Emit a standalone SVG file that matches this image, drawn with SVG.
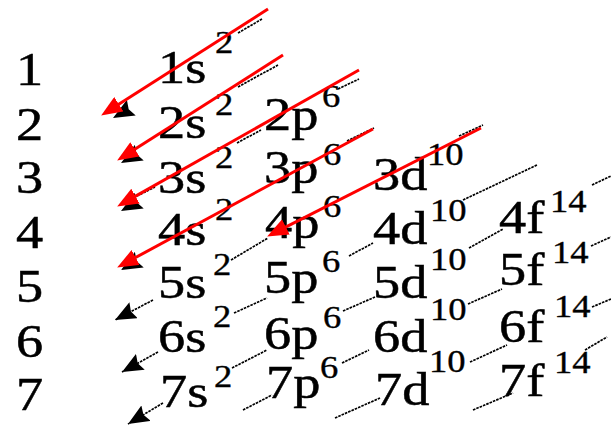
<svg xmlns="http://www.w3.org/2000/svg" width="611" height="426" viewBox="0 0 611 426">
<style>
text { font-family: "Liberation Serif", "Times New Roman", serif; fill: #000; stroke: #000; stroke-width: 0.5; }
.b { font-size: 46px; }
.s { font-size: 31px; stroke-width: 0.35; }
.dl { fill: none; stroke: #000; stroke-width: 1.7; stroke-dasharray: 2.6 1; }
.ka { fill: none; stroke: none; marker-end: url(#ak); }
.kd { fill: none; stroke: #000; stroke-width: 1.7; stroke-dasharray: 2.6 1; marker-end: url(#ak); }
.ra { fill: none; stroke: #ff0000; stroke-width: 3; marker-end: url(#ar); }
</style>
<defs>
<marker id="ar" markerUnits="userSpaceOnUse" viewBox="0 0 21 17" markerWidth="21" markerHeight="17" refX="8" refY="8.5" orient="auto">
<path d="M0,0 L21,8.5 L0,17 z" fill="#ff0000"/>
</marker>
<marker id="ak" markerUnits="userSpaceOnUse" viewBox="0 0 21 18" markerWidth="21" markerHeight="18" refX="21" refY="9" orient="auto">
<path d="M0,0 L21,9 L0,18 L3,9 z" fill="#000"/>
</marker>
</defs>
<rect width="611" height="426" fill="#fff"/>

<g id="connectors-black">
<path class="dl" d="M238,33 L262,19"/>
<path class="dl" d="M238,87 L278,65"/>
<path class="dl" d="M338,89 L359,79"/>
<path class="dl" d="M237,143 L261,130"/>
<path class="dl" d="M137,196 L155,187"/>
<path class="dl" d="M347,141 L374,128"/>
<path class="dl" d="M459,136 L483,125"/>
<path class="dl" d="M231,260 L268,238"/>
<path class="kd" d="M153,300 L115,320"/>
<path class="dl" d="M463,200 L537,165"/>
<path class="dl" d="M349,256 L373,243"/>
<path class="dl" d="M234,313 L267,298"/>
<path class="kd" d="M158,352 L122,372"/>
<path class="dl" d="M592,185 L611,176"/>
<path class="dl" d="M469,248 L503,229"/>
<path class="dl" d="M343,311 L375,297"/>
<path class="dl" d="M232,368 L267,350"/>
<path class="kd" d="M163,403 L128,424"/>
<path class="dl" d="M591,246 L611,237"/>
<path class="dl" d="M468,304 L502,289"/>
<path class="dl" d="M342,363 L369,350"/>
<path class="dl" d="M243,410 L272,395"/>
<path class="dl" d="M592,307 L611,299"/>
<path class="dl" d="M470,362 L507,345"/>
<path class="dl" d="M335,418 L380,398"/>
<path class="dl" d="M585,350 L607,337"/>
<path class="dl" d="M473,410 L513,393"/>
<path class="ka" d="M130.4,108.2 L113,118"/>
<path class="ka" d="M138.4,153.2 L121,163"/>
<path class="ka" d="M138.4,201.2 L121,211"/>
<path class="ka" d="M138.4,260.2 L121,270"/>
</g>

<g id="row1">
<text class="b" transform="translate(16,85) scale(1.18,1)">1</text>
<text class="b" transform="translate(158,83) scale(1.18,1)">1s</text>
<text class="s" transform="translate(215,53) scale(1.18,1)">2</text>
</g>
<g id="row2">
<text class="b" transform="translate(16,140) scale(1.18,1)">2</text>
<text class="b" transform="translate(158,138) scale(1.18,1)">2s</text>
<text class="s" transform="translate(215,115) scale(1.18,1)">2</text>
<text class="b" transform="translate(264,130) scale(1.18,1)">2p</text>
<text class="s" transform="translate(322,107) scale(1.18,1)">6</text>
</g>
<g id="row3">
<text class="b" transform="translate(16,193) scale(1.18,1)">3</text>
<text class="b" transform="translate(158,193) scale(1.18,1)">3s</text>
<text class="s" transform="translate(215,168) scale(1.18,1)">2</text>
<text class="b" transform="translate(264,183) scale(1.18,1)">3p</text>
<text class="s" transform="translate(323,165) scale(1.18,1)">6</text>
<text class="b" transform="translate(373,190) scale(1.18,1)">3d</text>
<text class="s" transform="translate(427,165) scale(1.18,1)">10</text>
</g>
<g id="row4">
<text class="b" transform="translate(16,248) scale(1.18,1)">4</text>
<text class="b" transform="translate(158,245) scale(1.18,1)">4s</text>
<text class="s" transform="translate(215,220) scale(1.18,1)">2</text>
<text class="b" transform="translate(265,238) scale(1.18,1)">4p</text>
<text class="s" transform="translate(323,217) scale(1.18,1)">6</text>
<text class="b" transform="translate(373,244) scale(1.18,1)">4d</text>
<text class="s" transform="translate(430,221) scale(1.18,1)">10</text>
<text class="b" transform="translate(499,233) scale(1.18,1)">4f</text>
<text class="s" transform="translate(550,212) scale(1.18,1)">14</text>
</g>
<g id="row5">
<text class="b" transform="translate(16,302) scale(1.18,1)">5</text>
<text class="b" transform="translate(158,298) scale(1.18,1)">5s</text>
<text class="s" transform="translate(213,275) scale(1.18,1)">2</text>
<text class="b" transform="translate(264,293) scale(1.18,1)">5p</text>
<text class="s" transform="translate(322,272) scale(1.18,1)">6</text>
<text class="b" transform="translate(373,298) scale(1.18,1)">5d</text>
<text class="s" transform="translate(430,270) scale(1.18,1)">10</text>
<text class="b" transform="translate(499,285) scale(1.18,1)">5f</text>
<text class="s" transform="translate(552,263) scale(1.18,1)">14</text>
</g>
<g id="row6">
<text class="b" transform="translate(16,357) scale(1.18,1)">6</text>
<text class="b" transform="translate(158,352) scale(1.18,1)">6s</text>
<text class="s" transform="translate(213,327) scale(1.18,1)">2</text>
<text class="b" transform="translate(264,349) scale(1.18,1)">6p</text>
<text class="s" transform="translate(323,328) scale(1.18,1)">6</text>
<text class="b" transform="translate(373,352) scale(1.18,1)">6d</text>
<text class="s" transform="translate(430,320) scale(1.18,1)">10</text>
<text class="b" transform="translate(499,342) scale(1.18,1)">6f</text>
<text class="s" transform="translate(554,317) scale(1.18,1)">14</text>
</g>
<g id="row7">
<text class="b" transform="translate(16,410) scale(1.18,1)">7</text>
<text class="b" transform="translate(160,407) scale(1.18,1)">7s</text>
<text class="s" transform="translate(214,387) scale(1.18,1)">2</text>
<text class="b" transform="translate(266,398) scale(1.18,1)">7p</text>
<text class="s" transform="translate(320,378) scale(1.18,1)">6</text>
<text class="b" transform="translate(375,405) scale(1.18,1)">7d</text>
<text class="s" transform="translate(429,372) scale(1.18,1)">10</text>
<text class="b" transform="translate(499,396) scale(1.18,1)">7f</text>
<text class="s" transform="translate(554,373) scale(1.18,1)">14</text>
</g>

<g id="connectors-red">
<path class="ra" d="M268,9 L112.1,108.5"/>
<path class="ra" d="M283,55 L128.1,153.6"/>
<path class="ra" d="M359,70 L128.5,200.1"/>
<path class="ra" d="M373,129 L128.6,261.3"/>
<path class="ra" d="M481,128 L278.7,230.6"/>
</g>
</svg>
